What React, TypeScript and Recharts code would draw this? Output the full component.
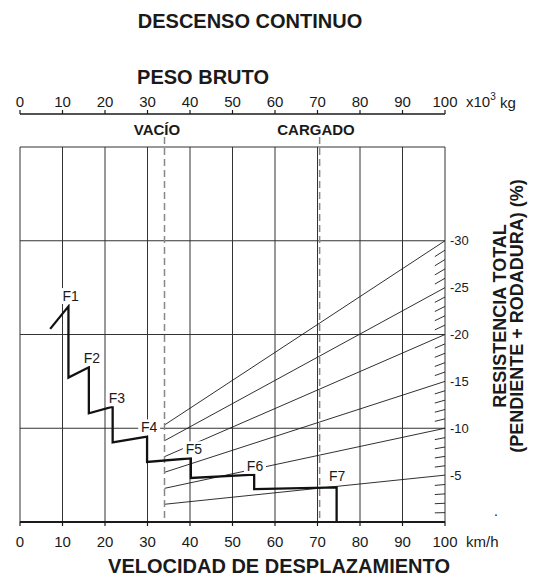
import React from 'react';
import { ComposedChart, Line, XAxis, YAxis, CartesianGrid, ReferenceLine, ReferenceDot } from 'recharts';

const speedTicks = [0, 10, 20, 30, 40, 50, 60, 70, 80, 90, 100];
const weightTicks = [0, 10, 20, 30, 40, 50, 60, 70, 80, 90, 100];
const resistanceTicks = [5, 10, 15, 20, 25, 30];
const minorResistanceTicks = [1, 2, 3, 4, 6, 7, 8, 9, 11, 12, 13, 14, 16, 17, 18, 19, 21, 22, 23, 24, 26, 27, 28, 29];
const gridRows = [10, 20, 30, 40];

const stepSpeed = [7.1, 11.4, 11.4, 16.2, 16.2, 21.8, 21.8, 29.9, 29.9, 40.2, 40.2, 55.1, 55.1, 74.5, 74.5];
const stepValue = [20.6, 23.0, 15.4, 16.5, 11.6, 12.3, 8.5, 9.1, 6.4, 6.8, 4.7, 5.05, 3.5, 3.7, 0];

const gearNames = ['F1', 'F2', 'F3', 'F4', 'F5', 'F6', 'F7'];
const gearLabelSpeed = [11.9, 16.9, 22.8, 30.4, 40.9, 55.3, 74.6];
const gearLabelValue = [24.1, 17.5, 13.2, 10.1, 7.75, 6.0, 4.94];

const gradeLineStart = [10.35, 8.67, 6.97, 5.3, 3.59, 1.89];
const gradeLineEnd = [30, 25, 20, 15, 10, 5];
const gradeStartSpeed = 34;
const gradeEndSpeed = 100;

const emptyWeight = 34;
const loadedWeight = 70.5;
const weightAxisLevel = 43.52;
const dashedTop = 41.07;

const stepData = stepSpeed.map((x, i) => ({ x, y: stepValue[i] }));
const gradeData = gradeLineStart.map((s, i) => [
  { x: gradeStartSpeed, y: s },
  { x: gradeEndSpeed, y: gradeLineEnd[i] },
]);

const FONT = 'Liberation Sans, Arial, Helvetica, sans-serif';
const INK = '#1a1a1a';

const WeightTick = (label: number) => (props: any) => {
  const { cx, cy } = props;
  return (
    <g>
      <line x1={cx} x2={cx} y1={cy - 4} y2={cy} stroke={INK} strokeWidth={1.2} />
      <text x={cx} y={cy - 12.5} textAnchor="middle" dominantBaseline="central" fontSize={15} fontFamily={FONT} fill={INK}>
        {label}
      </text>
    </g>
  );
};

const GearLabel = (name: string) => (props: any) => {
  const { cx, cy } = props;
  const w = name.length * 9 + 4;
  return (
    <g>
      <rect x={cx - w / 2} y={cy - 8} width={w} height={16} fill="#fff" />
      <text x={cx} y={cy} textAnchor="middle" dominantBaseline="central" fontSize={14} fontFamily={FONT} fill={INK}>
        {name}
      </text>
    </g>
  );
};

export default function App() {
  return (
    <div style={{ position: 'absolute', left: 0, top: 0, width: 537, height: 576, background: '#fff' }}>
      <ComposedChart
        width={537}
        height={576}
        margin={{ top: 147, right: 42, bottom: 24, left: 20 }}
        style={{ fontFamily: FONT }}
      >
        <CartesianGrid vertical horizontal={false} stroke="#333" strokeWidth={1} />
        <XAxis
          dataKey="x"
          type="number"
          domain={[0, 100]}
          ticks={speedTicks}
          interval={0}
          height={30}
          tickSize={4}
          tickMargin={10}
          axisLine={{ stroke: INK, strokeWidth: 1.8 }}
          tickLine={{ stroke: INK, strokeWidth: 1.2 }}
          tick={{ fontSize: 15, fill: INK, fontFamily: FONT }}
        />
        <YAxis
          orientation="right"
          type="number"
          domain={[0, 40]}
          ticks={resistanceTicks}
          interval={0}
          width={50}
          tickSize={3}
          tickMargin={2}
          axisLine={false}
          tickLine={false}
          tickFormatter={(v: number) => `-${v}`}
          tick={{ fontSize: 13, fill: INK, fontFamily: FONT, textAnchor: 'start' }}
        />
        {gridRows.map((r) => (
          <ReferenceLine key={`row${r}`} y={r} stroke="#333" strokeWidth={1} />
        ))}
        <ReferenceLine
          segment={[{ x: 0, y: weightAxisLevel }, { x: 100, y: weightAxisLevel }]}
          stroke={INK}
          strokeWidth={1.6}
          ifOverflow="visible"
        />
        {weightTicks.map((w) => (
          <ReferenceDot
            key={`wt${w}`}
            x={w}
            y={weightAxisLevel}
            r={0}
            ifOverflow="visible"
            shape={WeightTick(w)}
          />
        ))}
        {minorResistanceTicks.map((k) => (
          <ReferenceLine
            key={`mt${k}`}
            segment={[{ x: 97.6, y: k * 0.976 }, { x: 100, y: k }]}
            stroke={INK}
            strokeWidth={0.9}
            ifOverflow="visible"
          />
        ))}
        {gradeData.map((d, i) => (
          <Line
            key={`grade${i}`}
            data={d}
            dataKey="y"
            type="linear"
            stroke={INK}
            strokeWidth={0.9}
            dot={false}
            activeDot={false}
            isAnimationActive={false}
          />
        ))}
        <ReferenceLine
          segment={[{ x: emptyWeight, y: dashedTop }, { x: emptyWeight, y: 0 }]}
          stroke="#888"
          strokeWidth={1.5}
          strokeDasharray="7 4"
          ifOverflow="visible"
        />
        <ReferenceLine
          segment={[{ x: loadedWeight, y: dashedTop }, { x: loadedWeight, y: 0 }]}
          stroke="#888"
          strokeWidth={1.5}
          strokeDasharray="7 4"
          ifOverflow="visible"
        />
        <Line
          data={stepData}
          dataKey="y"
          type="linear"
          stroke="#111"
          strokeWidth={2.3}
          strokeLinejoin="miter"
          dot={false}
          activeDot={false}
          isAnimationActive={false}
        />
        {gearNames.map((n, i) => (
          <ReferenceDot
            key={n}
            x={gearLabelSpeed[i]}
            y={gearLabelValue[i]}
            r={0}
            ifOverflow="visible"
            shape={GearLabel(n)}
          />
        ))}
        <text x={250} y={20.5} textAnchor="middle" dominantBaseline="central" fontSize={20} fontWeight="bold" fontFamily={FONT} fill={INK}>
          DESCENSO CONTINUO
        </text>
        <text x={203} y={77} textAnchor="middle" dominantBaseline="central" fontSize={20} fontWeight="bold" fontFamily={FONT} fill={INK}>
          PESO BRUTO
        </text>
        <text x={466} y={101.5} dominantBaseline="central" fontSize={15} fontFamily={FONT} fill={INK}>
          x10<tspan dy={-6} fontSize={10}>3</tspan><tspan dy={6}> kg</tspan>
        </text>
        <text x={157} y={129} textAnchor="middle" dominantBaseline="central" fontSize={15} fontWeight="bold" fontFamily={FONT} fill={INK}>
          VACÍO
        </text>
        <text x={316} y={129} textAnchor="middle" dominantBaseline="central" fontSize={15} fontWeight="bold" fontFamily={FONT} fill={INK}>
          CARGADO
        </text>
        <text x={466} y={541} dominantBaseline="central" fontSize={15} fontFamily={FONT} fill={INK}>
          km/h
        </text>
        <text x={279} y={566} textAnchor="middle" dominantBaseline="central" fontSize={20} fontWeight="bold" fontFamily={FONT} fill={INK}>
          VELOCIDAD DE DESPLAZAMIENTO
        </text>
        <text transform="translate(500,316) rotate(-90)" x={0} y={0} textAnchor="middle" dominantBaseline="central" fontSize={18} fontWeight="bold" fontFamily={FONT} fill={INK}>
          RESISTENCIA TOTAL
        </text>
        <text transform="translate(517,316) rotate(-90)" x={0} y={0} textAnchor="middle" dominantBaseline="central" fontSize={18} fontWeight="bold" fontFamily={FONT} fill={INK}>
          (PENDIENTE + RODADURA) (%)
        </text>
        <text x={496} y={516} textAnchor="middle" fontSize={14} fontFamily={FONT} fill={INK}>
          .
        </text>
      </ComposedChart>
    </div>
  );
}
